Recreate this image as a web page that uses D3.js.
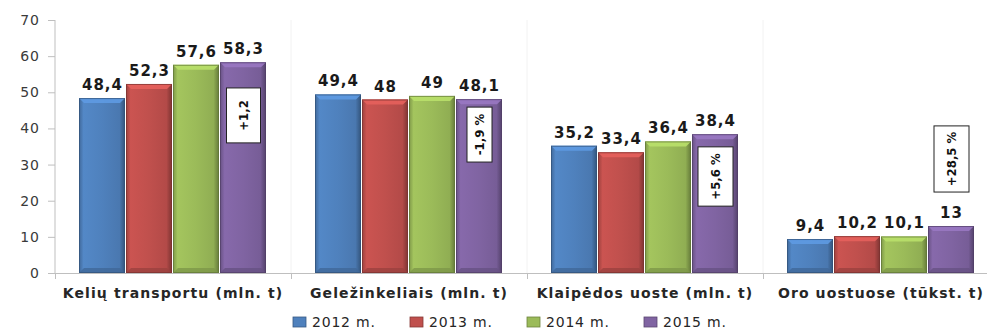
<!DOCTYPE html>
<html><head><meta charset="utf-8">
<script src="https://cdn.jsdelivr.net/npm/d3@7"></script>
<style>body{margin:0;background:#fff}svg{display:block}</style>
</head><body>
<script>
const categories = ["Kelių transportu (mln. t)", "Geležinkeliais (mln. t)", "Klaipėdos uoste (mln. t)", "Oro uostuose (tūkst. t)"];
const seriesNames = ["2012 m.", "2013 m.", "2014 m.", "2015 m."];
const v2012 = [48.4, 49.4, 35.2, 9.4];
const v2013 = [52.3, 48, 33.4, 10.2];
const v2014 = [57.6, 49, 36.4, 10.1];
const v2015 = [58.3, 48.1, 38.4, 13];
const changeLabels = ["+1,2", "-1,9 %", "+5,6 %", "+28,5 %"];
const yTicks = [0, 10, 20, 30, 40, 50, 60, 70];

// annotation box extents (value units) — layout only
const annoTop = [51.2, 45.9, 34.9, 40.7];
const annoBottom = [36.0, 30.7, 18.5, 22.4];
const annoWidth = [34, 25, 35, 35];

const colors = ["#4F81BD", "#C0504D", "#9BBB59", "#8064A2"];
const series = [v2012, v2013, v2014, v2015];

const W = 987, H = 331;
const svg = d3.select("body").append("svg").attr("width", W).attr("height", H);
const defs = svg.append("defs");

const x0 = d3.scaleBand().domain(categories).range([55, 999]).padding(0);
const x1 = d3.scaleBand().domain(seriesNames).range([24, x0.bandwidth() - 24]).padding(0);
const y = d3.scaleLinear().domain([0, 70]).range([273, 20]);

colors.forEach((c, i) => {
  const base = d3.color(c);
  const g = defs.append("linearGradient").attr("id", "g" + i).attr("x1", "0").attr("x2", "1").attr("y1", "0").attr("y2", "0");
  g.append("stop").attr("offset", "0%").attr("stop-color", base.darker(0.6));
  g.append("stop").attr("offset", "10%").attr("stop-color", base.brighter(0.15));
  g.append("stop").attr("offset", "50%").attr("stop-color", base);
  g.append("stop").attr("offset", "88%").attr("stop-color", base.darker(0.2));
  g.append("stop").attr("offset", "100%").attr("stop-color", base.darker(1.2));
});

// faint vertical separators
svg.append("g").selectAll("line").data(categories.slice(1)).join("line")
  .attr("x1", d => x0(d)).attr("x2", d => x0(d)).attr("y1", 20).attr("y2", 273)
  .attr("stroke", "#f2f2f2").attr("stroke-width", 1);

// y axis
const yAxis = svg.append("g").attr("transform", "translate(55,0)")
  .call(d3.axisLeft(y).tickValues(yTicks).tickSize(7).tickPadding(8).tickFormat(d3.format("d")));
yAxis.select(".domain").attr("stroke", "#bfbfbf").attr("d", "M0,20V273");
yAxis.selectAll(".tick line").attr("stroke", "#bfbfbf");
yAxis.selectAll(".tick text").attr("fill", "#3a3a3a").attr("font-family", "DejaVu Sans").attr("font-size", 14).attr("letter-spacing", 1);

// x axis
const xAxis = svg.append("g").attr("transform", "translate(0,273)")
  .call(d3.axisBottom(x0).tickSize(0).tickPadding(15));
xAxis.select(".domain").attr("stroke", "#bfbfbf").attr("d", "M48,0.5H999");
xAxis.selectAll(".tick text").attr("fill", "#262626").attr("font-family", "DejaVu Sans").attr("font-weight", "bold").attr("font-size", 14).attr("letter-spacing", 1.1);
svg.append("g").selectAll("line").data(categories).join("line")
  .attr("x1", d => x0(d) + 0.5).attr("x2", d => x0(d) + 0.5).attr("y1", 273).attr("y2", 279)
  .attr("stroke", "#bfbfbf");

// bars
const bars = [];
categories.forEach((cat, ci) => {
  series.forEach((s, si) => bars.push({cat, ci, si, v: s[ci]}));
});
const bg = svg.append("g");
const bar = bg.selectAll("g.bar").data(bars).join("g").attr("class", "bar");
bar.each(function(d) {
  const g = d3.select(this);
  const bx = x0(d.cat) + x1(seriesNames[d.si]);
  const bw = x1.bandwidth() - 1;
  const top = y(d.v), bot = y(0);
  const base = d3.color(colors[d.si]);
  const e = 5;
  g.append("rect").attr("x", bx).attr("y", top).attr("width", bw).attr("height", bot - top)
    .attr("fill", `url(#g${d.si})`);
  g.append("path").attr("d", `M${bx},${top}H${bx + bw}L${bx + bw - e},${top + e}H${bx + e}Z`)
    .attr("fill", base.brighter(0.5)).attr("opacity", 0.9);
  g.append("path").attr("d", `M${bx},${bot}H${bx + bw}L${bx + bw - e},${bot - e}H${bx + e}Z`)
    .attr("fill", base.darker(0.6)).attr("opacity", 0.8);
  g.append("rect").attr("x", bx + 0.5).attr("y", top + 0.5).attr("width", bw - 1).attr("height", bot - top - 1)
    .attr("fill", "none").attr("stroke", base.darker(1.3)).attr("stroke-width", 1).attr("opacity", 0.7);
});

// value labels
svg.append("g").selectAll("text").data(bars).join("text")
  .attr("x", d => x0(d.cat) + x1(seriesNames[d.si]) + x1.bandwidth() / 2)
  .attr("y", d => y(d.v) - 8)
  .attr("text-anchor", "middle")
  .attr("font-family", "DejaVu Sans").attr("font-weight", "bold").attr("font-size", 15)
  .attr("letter-spacing", 1).attr("fill", "#1a1a1a")
  .text(d => String(d.v).replace(".", ","));

// change annotations
const ag = svg.append("g");
categories.forEach((cat, ci) => {
  const cx = x0(cat) + x1(seriesNames[3]) + x1.bandwidth() / 2;
  const t = y(annoTop[ci]), b = y(annoBottom[ci]);
  const w = annoWidth[ci];
  ag.append("rect").attr("x", cx - w / 2).attr("y", t).attr("width", w).attr("height", b - t)
    .attr("fill", "#fff").attr("stroke", "#222").attr("stroke-width", 1);
  ag.append("text").attr("transform", `translate(${cx + 4.5},${(t + b) / 2}) rotate(-90)`)
    .attr("text-anchor", "middle")
    .attr("font-family", "DejaVu Sans Condensed, DejaVu Sans").attr("font-weight", "bold")
    .attr("font-size", 13).attr("fill", "#111")
    .text(changeLabels[ci]);
});

// legend
const lg = svg.append("g");
const lx = d3.scaleBand().domain(seriesNames).range([293, 293 + 4 * 117]);
seriesNames.forEach((n, i) => {
  const gx = lx(n);
  lg.append("rect").attr("x", gx).attr("y", 317).attr("width", 13).attr("height", 10)
    .attr("fill", colors[i]).attr("stroke", d3.color(colors[i]).darker(1)).attr("stroke-width", 0.8);
  lg.append("text").attr("x", gx + 19).attr("y", 327).attr("letter-spacing", 0.8)
    .attr("font-family", "DejaVu Sans").attr("font-size", 14).attr("fill", "#262626").text(n);
});
</script>
</body></html>
